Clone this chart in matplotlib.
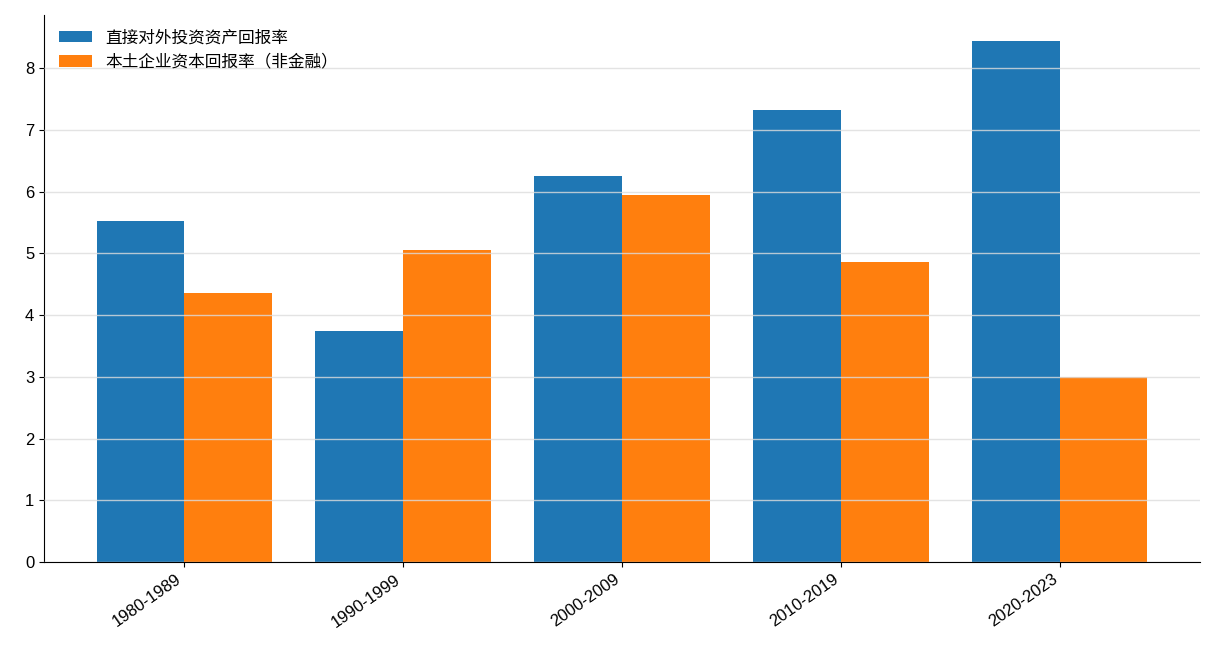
import numpy as np
import matplotlib
matplotlib.use("Agg")
import matplotlib.pyplot as plt

plt.rcParams['font.family'] = ['Liberation Sans', 'Noto Sans CJK SC', 'DejaVu Sans']

periods = ["1980-1989", "1990-1999", "2000-2009", "2010-2019", "2020-2023"]
fdi_return = [5.52, 3.74, 6.25, 7.32, 8.44]
domestic_return = [4.35, 5.05, 5.94, 4.86, 3.00]

fig = plt.figure(figsize=(12.16, 6.72), dpi=100)
ax = fig.add_axes([44/1216, 110/672, 1156/1216, 547/672])

x = np.arange(len(periods))
w = 0.4
ax.bar(x - w/2, fdi_return, w, color="#1f77b4", label="直接对外投资资产回报率")
ax.bar(x + w/2, domestic_return, w, color="#ff7f0e", label="本土企业资本回报率（非金融）")

ax.set_xlim(-0.64, 4.64)
ax.set_ylim(0, 8.86)
ax.set_xticks(x)
ax.set_xticklabels(periods, rotation=35, ha="right", fontsize=12)
ax.tick_params(axis="y", labelsize=12)
ax.yaxis.grid(True, color="#dddddd", linewidth=1, alpha=0.8)
ax.set_axisbelow(False)
for s in ["top", "right"]:
    ax.spines[s].set_visible(False)
ax.legend(loc="upper left", frameon=False, fontsize=12)

plt.savefig("out.png", dpi=100)
plt.close()
